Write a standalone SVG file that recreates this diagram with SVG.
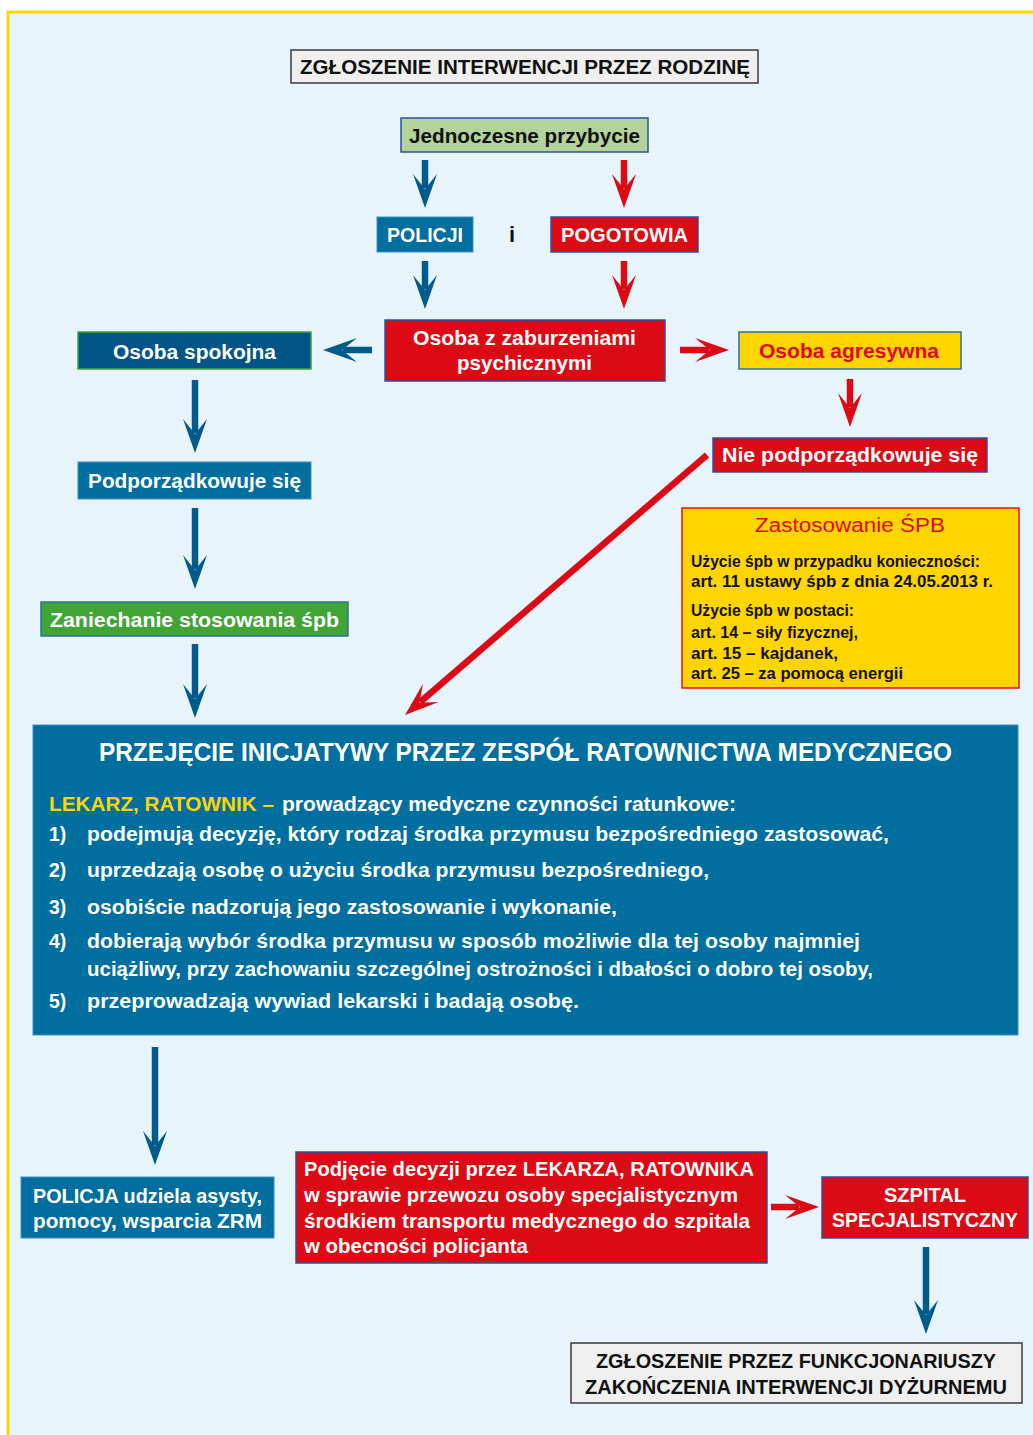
<svg xmlns="http://www.w3.org/2000/svg" width="1033" height="1435" viewBox="0 0 1033 1435">
<defs>
<marker id="ahB" markerUnits="userSpaceOnUse" viewBox="0 0 34 24" markerWidth="34" markerHeight="24" refX="14" refY="12" orient="auto"><path d="M0,0 L34,12 L0,24 L15,12 Z" fill="#005A8C"/></marker>
<marker id="ahR" markerUnits="userSpaceOnUse" viewBox="0 0 34 24" markerWidth="34" markerHeight="24" refX="14" refY="12" orient="auto"><path d="M0,0 L34,12 L0,24 L15,12 Z" fill="#DC0A14"/></marker>
<style>
text{font-family:"Liberation Sans",Arial,sans-serif;font-weight:bold;}
.w{fill:#FFFFFF;}
.k{fill:#111111;}
.r{fill:#DC0A14;}
.y{fill:#FFD500;}
.ab{stroke:#005A8C;stroke-width:6.5;fill:none;marker-end:url(#ahB);}
.ar{stroke:#DC0A14;stroke-width:6.5;fill:none;marker-end:url(#ahR);}
.gray{fill:#EFEFEF;stroke:#3A3A3A;stroke-width:1.5;}
.blue{fill:#006FA0;stroke:#3D8FC0;stroke-width:1;}
.red{fill:#DC0A14;stroke:#2F4F9F;stroke-width:1.5;}
</style>
</defs>
<rect x="0" y="0" width="1033" height="1435" fill="#FFFFFF"/>
<rect x="8" y="12" width="1040" height="1440" fill="#E8F4FC" stroke="#FFD400" stroke-width="3"/>

<g id="connectors">
<line class="ab" x1="425" y1="160" x2="425" y2="188"/>
<line class="ar" x1="624" y1="160" x2="624" y2="188"/>
<line class="ab" x1="425" y1="261" x2="425" y2="289"/>
<line class="ar" x1="624" y1="261" x2="624" y2="289"/>
<line class="ab" x1="372" y1="350" x2="343" y2="350"/>
<line class="ar" x1="680" y1="350" x2="709" y2="350"/>
<line class="ar" x1="850" y1="379" x2="850" y2="407"/>
<line class="ar" x1="707" y1="455" x2="420.2" y2="702"/>
<line class="ab" x1="195" y1="380" x2="195" y2="433"/>
<line class="ab" x1="195" y1="508" x2="195" y2="569"/>
<line class="ab" x1="195" y1="644" x2="195" y2="698"/>
<line class="ab" x1="155" y1="1047" x2="155" y2="1145"/>
<line class="ar" x1="771" y1="1207" x2="799" y2="1207"/>
<line class="ab" x1="926" y1="1247" x2="926" y2="1314"/>
</g>

<g id="n-title">
<rect class="gray" x="291" y="50" width="467" height="33"/>
<text class="k" x="300" y="74" font-size="20.5" textLength="450" lengthAdjust="spacingAndGlyphs">ZGŁOSZENIE INTERWENCJI PRZEZ RODZINĘ</text>
</g>

<g id="n-jednoczesne">
<rect x="401" y="118" width="247" height="34" fill="#B2D39A" stroke="#2F4F9F" stroke-width="1.5"/>
<text class="k" x="409" y="143" font-size="19.5" textLength="231" lengthAdjust="spacingAndGlyphs">Jednoczesne przybycie</text>
</g>

<g id="n-policji">
<rect class="blue" x="377" y="217" width="96" height="35"/>
<text class="w" x="387" y="242" font-size="20" textLength="76" lengthAdjust="spacingAndGlyphs">POLICJI</text>
</g>

<g id="n-i">
<text class="k" x="512" y="242" font-size="22" text-anchor="middle">i</text>
</g>

<g id="n-pogotowia">
<rect class="red" x="551" y="217" width="147" height="35" stroke="#3D8FC0"/>
<text class="w" x="561" y="242" font-size="20" textLength="127" lengthAdjust="spacingAndGlyphs">POGOTOWIA</text>
</g>

<g id="n-osoba-zab">
<rect class="red" x="385" y="320" width="280" height="61" stroke="#4A3F8F"/>
<text class="w" x="413" y="345" font-size="20" textLength="223" lengthAdjust="spacingAndGlyphs">Osoba z zaburzeniami</text>
<text class="w" x="457" y="370" font-size="20" textLength="135" lengthAdjust="spacingAndGlyphs">psychicznymi</text>
</g>

<g id="n-spokojna">
<rect x="78" y="332" width="233" height="37" fill="#005487" stroke="#3FA535" stroke-width="1.5"/>
<text class="w" x="113" y="359" font-size="20" textLength="163" lengthAdjust="spacingAndGlyphs">Osoba spokojna</text>
</g>

<g id="n-agresywna">
<rect x="739" y="332" width="222" height="37" fill="#FFD500" stroke="#2F6FA0" stroke-width="1.5"/>
<text class="r" x="759" y="358" font-size="20" textLength="180" lengthAdjust="spacingAndGlyphs">Osoba agresywna</text>
</g>

<g id="n-nie-podp">
<rect class="red" x="713" y="438" width="274" height="34" stroke="#2F6FA0"/>
<text class="w" x="722" y="462" font-size="20" textLength="256" lengthAdjust="spacingAndGlyphs">Nie podporządkowuje się</text>
</g>

<g id="n-podp">
<rect class="blue" x="78" y="462" width="233" height="37"/>
<text class="w" x="88" y="488" font-size="20" textLength="213" lengthAdjust="spacingAndGlyphs">Podporządkowuje się</text>
</g>

<g id="n-zaniechanie">
<rect x="41" y="602" width="307" height="34" fill="#3FA535" stroke="#2F6FA0" stroke-width="1.5"/>
<text class="w" x="50" y="627" font-size="20" textLength="289" lengthAdjust="spacingAndGlyphs">Zaniechanie stosowania śpb</text>
</g>

<g id="n-spb">
<rect x="682" y="508" width="337" height="180" fill="#FFD500" stroke="#E3101A" stroke-width="1.5"/>
<text class="r" x="755" y="532" font-size="20" font-weight="normal" style="font-weight:normal" textLength="190" lengthAdjust="spacingAndGlyphs">Zastosowanie ŚPB</text>
<text class="k" x="691" y="567" font-size="16" textLength="289" lengthAdjust="spacingAndGlyphs">Użycie śpb w przypadku konieczności:</text>
<text class="k" x="691" y="587" font-size="16" textLength="302" lengthAdjust="spacingAndGlyphs">art. 11 ustawy śpb z dnia 24.05.2013 r.</text>
<text class="k" x="691" y="616" font-size="16" textLength="163" lengthAdjust="spacingAndGlyphs">Użycie śpb w postaci:</text>
<text class="k" x="691" y="638" font-size="16" textLength="167" lengthAdjust="spacingAndGlyphs">art. 14 – siły fizycznej,</text>
<text class="k" x="691" y="659" font-size="16" textLength="147" lengthAdjust="spacingAndGlyphs">art. 15 – kajdanek,</text>
<text class="k" x="691" y="679" font-size="16" textLength="212" lengthAdjust="spacingAndGlyphs">art. 25 – za pomocą energii</text>
</g>

<g id="n-zrm">
<rect x="33" y="725" width="985" height="310" fill="#006FA0" stroke="#3D8FC0" stroke-width="1"/>
<text class="w" x="99" y="761" font-size="25" textLength="853" lengthAdjust="spacingAndGlyphs">PRZEJĘCIE INICJATYWY PRZEZ ZESPÓŁ RATOWNICTWA MEDYCZNEGO</text>
<text font-size="19.5" y="811"><tspan class="y" x="49" textLength="225" lengthAdjust="spacingAndGlyphs">LEKARZ, RATOWNIK –</tspan><tspan class="w" x="282" textLength="454" lengthAdjust="spacingAndGlyphs">prowadzący medyczne czynności ratunkowe:</tspan></text>
<text class="w" x="49" y="841" font-size="19.5">1)</text>
<text class="w" x="87" y="841" font-size="19.5" textLength="802" lengthAdjust="spacingAndGlyphs">podejmują decyzję, który rodzaj środka przymusu bezpośredniego zastosować,</text>
<text class="w" x="49" y="877" font-size="19.5">2)</text>
<text class="w" x="87" y="877" font-size="19.5" textLength="622" lengthAdjust="spacingAndGlyphs">uprzedzają osobę o użyciu środka przymusu bezpośredniego,</text>
<text class="w" x="49" y="914" font-size="19.5">3)</text>
<text class="w" x="87" y="914" font-size="19.5" textLength="530" lengthAdjust="spacingAndGlyphs">osobiście nadzorują jego zastosowanie i wykonanie,</text>
<text class="w" x="49" y="948" font-size="19.5">4)</text>
<text class="w" x="87" y="948" font-size="19.5" textLength="773" lengthAdjust="spacingAndGlyphs">dobierają wybór środka przymusu w sposób możliwie dla tej osoby najmniej</text>
<text class="w" x="87" y="976" font-size="19.5" textLength="786" lengthAdjust="spacingAndGlyphs">uciążliwy, przy zachowaniu szczególnej ostrożności i dbałości o dobro tej osoby,</text>
<text class="w" x="49" y="1008" font-size="19.5">5)</text>
<text class="w" x="87" y="1008" font-size="19.5" textLength="492" lengthAdjust="spacingAndGlyphs">przeprowadzają wywiad lekarski i badają osobę.</text>
</g>

<g id="n-policja-asysta">
<rect class="blue" x="21" y="1177" width="253" height="61"/>
<text class="w" x="33" y="1203" font-size="20" textLength="229" lengthAdjust="spacingAndGlyphs">POLICJA udziela asysty,</text>
<text class="w" x="33" y="1228" font-size="20" textLength="229" lengthAdjust="spacingAndGlyphs">pomocy, wsparcia ZRM</text>
</g>

<g id="n-decyzja">
<rect class="red" x="296" y="1152" width="471" height="111" stroke="#2F6FA0"/>
<text class="w" x="304" y="1176" font-size="20" textLength="450" lengthAdjust="spacingAndGlyphs">Podjęcie decyzji przez LEKARZA, RATOWNIKA</text>
<text class="w" x="304" y="1202" font-size="20" textLength="434" lengthAdjust="spacingAndGlyphs">w sprawie przewozu osoby specjalistycznym</text>
<text class="w" x="304" y="1228" font-size="20" textLength="446" lengthAdjust="spacingAndGlyphs">środkiem transportu medycznego do szpitala</text>
<text class="w" x="304" y="1253" font-size="20" textLength="224" lengthAdjust="spacingAndGlyphs">w obecności policjanta</text>
</g>

<g id="n-szpital">
<rect class="red" x="822" y="1177" width="206" height="61" stroke="#2F6FA0"/>
<text class="w" x="884" y="1202" font-size="20" textLength="82" lengthAdjust="spacingAndGlyphs">SZPITAL</text>
<text class="w" x="832" y="1227" font-size="20" textLength="186" lengthAdjust="spacingAndGlyphs">SPECJALISTYCZNY</text>
</g>

<g id="n-zakonczenie">
<rect class="gray" x="571" y="1343" width="451" height="60"/>
<text class="k" x="596" y="1368" font-size="20" textLength="400" lengthAdjust="spacingAndGlyphs">ZGŁOSZENIE PRZEZ FUNKCJONARIUSZY</text>
<text class="k" x="585" y="1394" font-size="20" textLength="422" lengthAdjust="spacingAndGlyphs">ZAKOŃCZENIA INTERWENCJI DYŻURNEMU</text>
</g>
</svg>
